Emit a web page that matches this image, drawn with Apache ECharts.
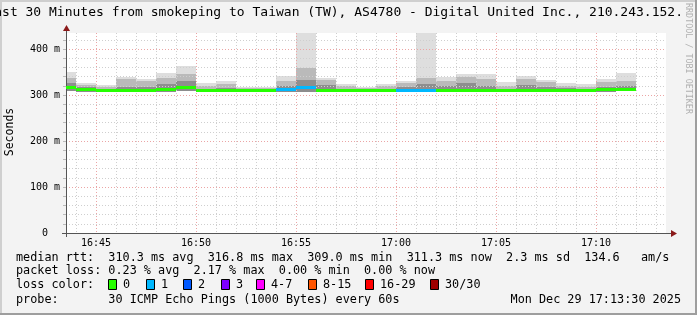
<!DOCTYPE html>
<html><head><meta charset="utf-8">
<script src="https://cdn.jsdelivr.net/npm/echarts@6/dist/echarts.min.js"></script>
<style>html,body{margin:0;padding:0;background:#f3f3f3}#c{width:697px;height:315px}</style>
</head><body><div id="c"></div><script>
// ---- data (ms) ----
const times = ['16:43','16:44','16:45','16:46','16:47','16:48','16:49','16:50','16:51','16:52','16:53','16:54','16:55','16:56','16:57','16:58','16:59','17:00','17:01','17:02','17:03','17:04','17:05','17:06','17:07','17:08','17:09','17:10','17:11'];
const maxMs    = [349,325,322,340,335,348,363,325,330,317,317,341,440,338,324,317,323,330,440,340,345.6,345.6,328,341,332.6,326,323,335,348];
const hiMs     = [338,322,318,335,330,338,345,320,324,315,315,330,358,332,320,315,320,325,338,330,340,335,320,335,328,320,318,328,330];
const midMs    = [326,317,313,318,317,324,330,314,315,312,312,320,332,321,314,312,314,317,324,319,325,320,314,322,318,315,314,318,320];
const medianMs = [316.5,312,309.3,309.3,309.3,313,316.5,309.3,309.3,309.3,309.3,313,317,310.2,309.3,309.3,309.3,310.2,309.3,309.3,309.3,309.3,309.3,309.3,309.3,309.3,309.3,311,311.3];
const minMs    = [309,307.5,307.5,307.5,307.5,307.5,308,307.5,307.5,307.5,307.5,306,307.5,307.5,307.5,307.5,307.5,307.5,307,307.5,307.5,307.5,307.5,307.5,307.5,307.5,307.5,307.5,308.5];
const lossPings = [0,0,0,0,0,0,0,0,0,0,0,1,1,0,0,0,0,1,1,0,0,0,0,0,0,0,0,0,0];
const yTickLabels = ['0  ','100 m','200 m','300 m','400 m'];
const xTickLabels = ['16:45','16:50','16:55','17:00','17:05','17:10'];
const lossLabels = ['0','1','2','3','4-7','8-15','16-29','30/30'];
const lossColors = ['#26ff00','#00b8ff','#0059ff','#7e00ff','#ff00ff','#ff5500','#ff0000','#a00000'];
const titleText = 'Last 30 Minutes from smokeping to Taiwan (TW), AS4780 - Digital United Inc., 210.243.152.1';
const statLines = [
  'median rtt:  310.3 ms avg  316.8 ms max  309.0 ms min  311.3 ms now  2.3 ms sd  134.6   am/s',
  'packet loss: 0.23 % avg  2.17 % max  0.00 % min  0.00 % now',
  'loss color:',
  'probe:       30 ICMP Echo Pings (1000 Bytes) every 60s'
];
const dateText = 'Mon Dec 29 17:13:30 2025';

const toSec = t => { const p = t.split(':').map(Number); return (p[0]-16)*3600 + p[1]*60; };
const MONO = 'DejaVu Sans Mono';
const lossIdx = n => n <= 3 ? n : n <= 7 ? 4 : n <= 15 ? 5 : n <= 29 ? 6 : 7;

const smokeData = times.map((t,i)=>[toSec(t), minMs[i], maxMs[i]]);
const medData = times.map((t,i)=>[toSec(t), medianMs[i]]);

function rectBetween(api, x0, x1, lo, hi, fill){
  const a = api.coord([x0, hi]), b = api.coord([x1, lo]);
  const y0 = Math.round(a[1]), y1 = Math.round(b[1]);
  const xa = Math.round(a[0]), xb = Math.round(b[0]);
  return {type:'rect', shape:{x:xa, y:y0, width:xb-xa, height:Math.max(0,y1-y0)}, style:{fill}};
}

const T='rgba(0,0,0,0)', G='#cfcfcf', R='#eba5a5';
const chart = echarts.init(document.getElementById('c'), null, {renderer:'canvas'});
chart.setOption({
  backgroundColor:'#f3f3f3',
  animation:false,
  grid:{left:66, top:33, width:600, height:200, show:true, backgroundColor:'#ffffff', borderWidth:0},
  xAxis:{type:'value', min:2610, max:4410, interval:30, z:3,
    axisLine:{show:true, lineStyle:{color:'#555', width:1}},
    axisTick:{show:false},
    axisLabel:{margin:5, fontFamily:MONO, fontSize:10, color:'#000',
      formatter:v => (v % 300 === 0 && v >= 2700) ? (xTickLabels[(v-2700)/300] || '') : ''},
    splitLine:{show:true, showMaxLine:false, lineStyle:{type:[1,2], width:1, color:[T,G,T,R,T,G,T,G,T,G]}}
  },
  yAxis:{type:'value', min:0, max:434.78, interval:20, z:3,
    axisLine:{show:true, lineStyle:{color:'#555', width:1}},
    axisTick:{show:true, length:3, lineStyle:{color:'#bbb'}},
    axisLabel:{margin:6, fontFamily:MONO, fontSize:10, color:'#000', showMaxLabel:false,
      formatter:v => (v % 100 === 0) ? (yTickLabels[v/100] || '') : ''},
    splitLine:{show:true, showMaxLine:false, lineStyle:{type:[1,2], width:1, color:[R,G,G,G,G]}}
  },
  series:[
    {type:'custom', z:1, clip:true, data:smokeData, encode:{x:0, y:[1,2]},
      renderItem:(params, api)=>{
        const i = params.dataIndex, x0 = api.value(0), x1 = x0 + 60;
        return {type:'group', children:[
          rectBetween(api,x0,x1,minMs[i],medianMs[i],'#8c8c8c'),
          rectBetween(api,x0,x1,medianMs[i],midMs[i],'#8e8e8e'),
          rectBetween(api,x0,x1,midMs[i],hiMs[i],'#bababa'),
          rectBetween(api,x0,x1,hiMs[i],maxMs[i],'#dedede')
        ]};
      }},
    {type:'custom', z:5, clip:true, data:medData, encode:{x:0, y:1},
      renderItem:(params, api)=>{
        const i = params.dataIndex, x0 = api.value(0), x1 = x0 + 60;
        const a = api.coord([x0, medianMs[i]]), b = api.coord([x1, medianMs[i]]);
        const xa = Math.round(a[0]), xb = Math.round(b[0]);
        return {type:'rect', shape:{x:xa, y:Math.round(a[1]-1.5), width:xb-xa, height:3},
          style:{fill:lossColors[lossIdx(lossPings[i])]}};
      }}
  ],
  graphic:{elements:[
    // frame
    {type:'rect', shape:{x:0,y:0,width:697,height:2}, style:{fill:'#cfcfcf'}, silent:true},
    {type:'rect', shape:{x:0,y:0,width:2,height:315}, style:{fill:'#cfcfcf'}, silent:true},
    {type:'rect', shape:{x:0,y:313,width:697,height:2}, style:{fill:'#9e9e9e'}, silent:true},
    {type:'rect', shape:{x:695,y:0,width:2,height:315}, style:{fill:'#9e9e9e'}, silent:true},
    // axis extensions & arrows
    {type:'line', shape:{x1:66.5,y1:33,x2:66.5,y2:27}, style:{stroke:'#555',lineWidth:1}, z:10},
    {type:'line', shape:{x1:66.5,y1:233,x2:66.5,y2:237}, style:{stroke:'#555',lineWidth:1}, z:10},
    {type:'line', shape:{x1:62,y1:233.5,x2:672,y2:233.5}, style:{stroke:'#555',lineWidth:1}, z:10},
    {type:'polygon', shape:{points:[[63,31],[70,31],[66.5,25]]}, style:{fill:'#8b1a1a'}, z:11},
    {type:'polygon', shape:{points:[[671,230],[671,237],[677,233.5]]}, style:{fill:'#8b1a1a'}, z:11},
    // title
    {type:'text', x:-13.6, y:13, style:{text:titleText, font:'13px "DejaVu Sans Mono"', fill:'#000', align:'left', verticalAlign:'middle'}, z:10},
    {type:'rect', shape:{x:680,y:2,width:15,height:24}, style:{fill:'#f3f3f3'}, z:11, silent:true},
    // rrdtool watermark
    {type:'text', x:688, y:3, rotation:-Math.PI/2, style:{text:'RRDTOOL / TOBI OETIKER', font:'8.4px "DejaVu Sans Mono"', fill:'#b0b0b0', align:'left', verticalAlign:'middle'}, z:12},
    // y axis name
    {type:'text', x:10, y:132, rotation:Math.PI/2, style:{text:'Seconds', font:'11.5px "DejaVu Sans Mono"', fill:'#000', align:'center', verticalAlign:'middle'}, z:10},
    // legend text
    ...statLines.map((s,k)=>({type:'text', x:16, y:[258,271,285,300][k], style:{text:s, font:'11.8px "DejaVu Sans Mono"', fill:'#000', align:'left', verticalAlign:'middle'}, z:10})),
    {type:'text', x:681, y:300, style:{text:dateText, font:'11.8px "DejaVu Sans Mono"', fill:'#000', align:'right', verticalAlign:'middle'}, z:10},
    ...lossLabels.flatMap((lab,k)=>{
      const bx = [108,146,183,221,256,308,365,430][k];
      return [
        {type:'rect', shape:{x:bx+0.5,y:279.5,width:8,height:10}, style:{fill:lossColors[k], stroke:'#000', lineWidth:1}, z:10},
        {type:'text', x:bx+15, y:285, style:{text:lab, font:'11.8px "DejaVu Sans Mono"', fill:'#000', align:'left', verticalAlign:'middle'}, z:10}
      ];
    })
  ]}
});
</script></body></html>
